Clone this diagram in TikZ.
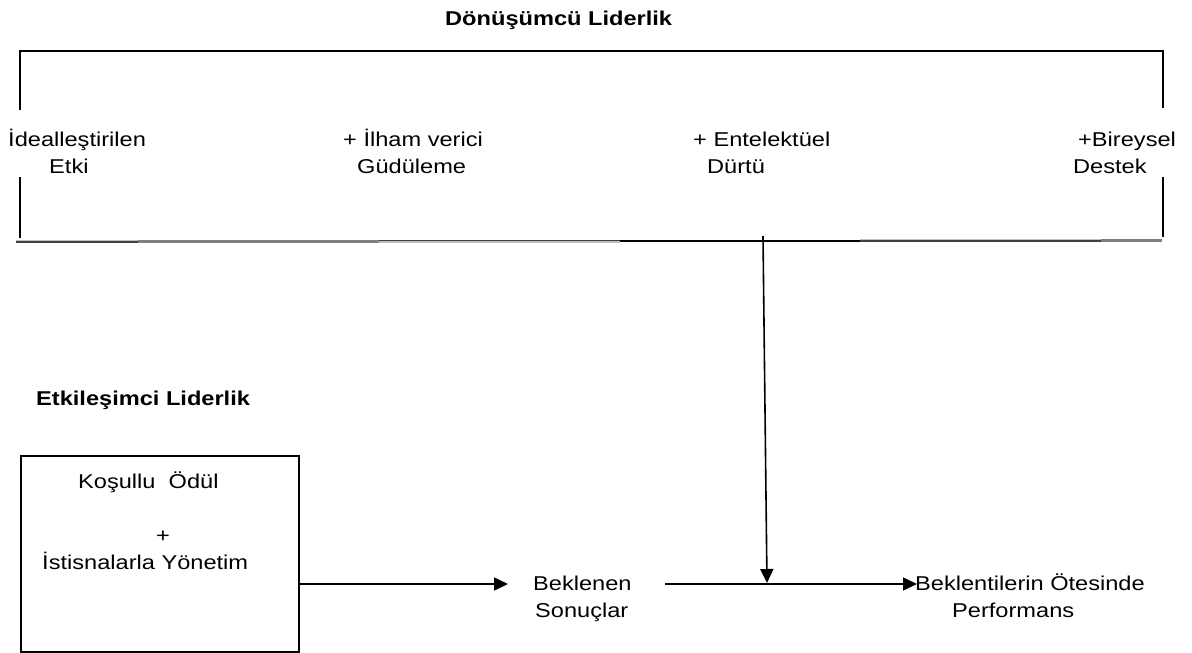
\documentclass[tikz,border=0pt]{standalone}
\usepackage{fontspec}
\setmainfont[FakeStretch=1.18]{Liberation Sans}
\usetikzlibrary{arrows.meta}
\definecolor{dkgray}{HTML}{404040}
\definecolor{mdgray}{HTML}{808080}
\definecolor{ltgray}{HTML}{C0C0C0}
\begin{document}
\begin{tikzpicture}[x=1pt,y=-1pt,
  txt/.style={anchor=base west,inner sep=0pt,font=\fontsize{20}{27}\selectfont},
  ttl/.style={txt,font=\fontsize{20}{27}\selectfont\bfseries},
  frame/.style={line width=1.6pt},
  conn/.style={line width=1.6pt,-{Triangle[length=14pt,width=13pt]}}]
\useasboundingbox (0,0) rectangle (1192,653);

% heading of the upper group
\node[ttl] (title) at (445,25) {Dönüşümcü Liderlik};

% bracket enclosing the four components
\draw[frame] (20,110) -- (20,51) -- (1163,51) -- (1163,108);
\draw[frame] (20,177) -- (20,238);
\draw[frame] (1163,177) -- (1163,237);

% shaded lower edge of the bracket
\draw[ltgray,line width=1.4pt] (16,240.3) -- (138,240.3);
\draw[dkgray,line width=1.6pt] (16,241.8) -- (138,241.8);
\draw[mdgray,line width=3pt] (138,241) -- (379,241);
\draw[dkgray,line width=1.4pt] (379,240.3) -- (620,240.3);
\draw[ltgray,line width=1.6pt] (379,241.8) -- (620,241.8);
\draw[black,line width=1.8pt] (620,240.6) -- (860,240.6);
\draw[ltgray,line width=1.4pt] (860,239.2) -- (1101,239.2);
\draw[dkgray,line width=1.6pt] (860,240.7) -- (1101,240.7);
\draw[mdgray,line width=3pt] (1101,240) -- (1162,240);

% components
\node[txt] (ideal1) at (8,146) {İdealleştirilen};
\node[txt] (ideal2) at (49,173) {Etki};
\node[txt] (ilham1) at (343,146) {+ İlham verici};
\node[txt] (ilham2) at (357,173) {Güdüleme};
\node[txt] (ent1) at (693,146) {+ Entelektüel};
\node[txt] (ent2) at (707,173) {Dürtü};
\node[txt] (bir1) at (1078,146) {+Bireysel};
\node[txt] (bir2) at (1073,173) {Destek};

% lower group
\node[ttl] (etk) at (36,405) {Etkileşimci Liderlik};
\node[draw,frame,minimum width=278pt,minimum height=196pt,anchor=north west,inner sep=0pt] (box) at (20,455) {};
\node[txt] (kos1) at (78,488) {Koşullu\ \ Ödül};
\node[txt] (kos2) at (156,542) {+};
\node[txt] (kos3) at (42,569) {İstisnalarla Yönetim};

\node[txt] (bek1) at (533,590) {Beklenen};
\node[txt] (bek2) at (535,617) {Sonuçlar};
\node[txt] (per1) at (915,590) {Beklentilerin Ötesinde};
\node[txt] (per2) at (952,617) {Performans};

% connectors
\coordinate (boxout) at (box.east |- 0,584);
\coordinate (bekin) at (508,584);
\coordinate (bekout) at (665,584);
\coordinate (perin) at (917,584);
\coordinate (vtop) at (763,236);
\coordinate (vbot) at (767,583);
\draw[conn] (boxout) -- (bekin);
\draw[conn] (bekout) -- (perin);
\draw[conn] (vtop) -- (vbot);
\end{tikzpicture}
\end{document}
